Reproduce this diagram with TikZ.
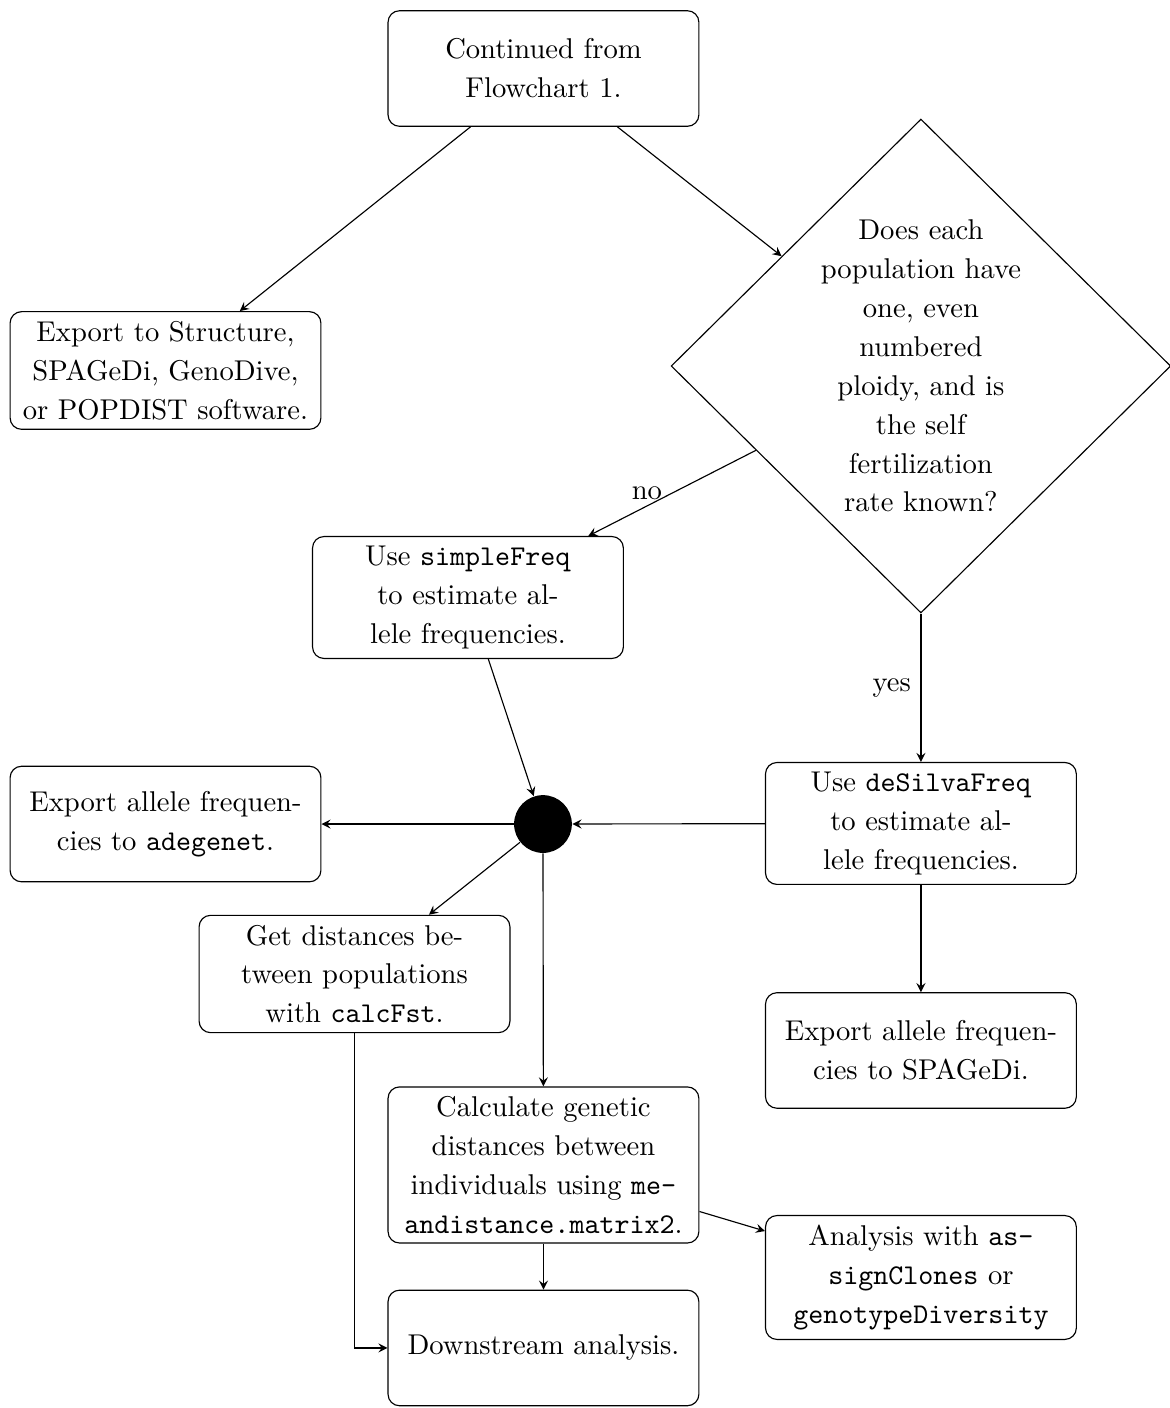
\documentclass[tikz,border=0pt]{standalone}
\usepackage{amsmath}
\usepackage{xcolor}
\usepackage{tikz}
\usetikzlibrary{shapes.geometric}

\begin{document}
\begin{tikzpicture}[>=stealth,
    every node/.style={font=\fontsize{10pt}{13.6pt}\selectfont},
    block/.style={rectangle,draw,rounded corners,align=center,minimum width=3.82cm,minimum height=1.42cm},
    decision/.style={diamond,draw,aspect=1,align=center,inner sep=0pt,minimum width=6.14cm,minimum height=6.07cm},
    junction/.style={circle,fill=black,inner sep=0pt,minimum size=0.71cm}]
    \useasboundingbox (0,0) rectangle (14.367,-17.304);

    \node[block] (start) at (6.679,-0.842) {Continued from\\ Flowchart 1.};
    \node[block] (export) at (2.034,-4.553) {Export to Structure,\\ SPAGeDi, GenoDive,\\ or POPDIST software.};
    \node[decision] (ploidy) at (11.318,-4.498) {Does each\\ population have\\ one, even\\ numbered\\ ploidy, and is\\ the self\\ fertilization\\ rate known?};
    \node[block] (simple) at (5.751,-7.343) {Use \texttt{simpleFreq}\\ to estimate al-\\ lele frequencies.};
    \node[junction] (dot) at (6.673,-10.127) {};
    \node[block] (adegenet) at (2.034,-10.127) {Export allele frequen-\\ cies to \texttt{adegenet}.};
    \node[block] (desilva) at (11.318,-10.120) {Use \texttt{deSilvaFreq}\\ to estimate al-\\ lele frequencies.};
    \node[block] (calcfst) at (4.357,-11.970) {Get distances be-\\ tween populations\\ with \texttt{calcFst}.};
    \node[block] (spagedi) at (11.318,-12.910) {Export allele frequen-\\ cies to SPAGeDi.};
    \node[block] (meandist) at (6.679,-14.317) {Calculate genetic\\ distances between\\ individuals using \texttt{me-}\\ \texttt{andistance.matrix2}.};
    \node[block] (clones) at (11.318,-15.700) {Analysis with \texttt{as-}\\ \texttt{signClones} or\\ \texttt{genotypeDiversity}};
    \node[block] (downstream) at (6.679,-16.566) {Downstream analysis.};

    \draw[->] (start) -- (export);
    \draw[->] (start) -- (ploidy);
    \draw[->] (ploidy) -- node[left] {no} (simple);
    \draw[->] (ploidy) -- node[left] {yes} (desilva);
    \draw[->] (simple) -- (dot);
    \draw[->] (desilva) -- (dot);
    \draw[->] (desilva) -- (spagedi);
    \draw[->] (dot) -- (adegenet);
    \draw[->] (dot) -- (calcfst);
    \draw[->] (dot) -- (meandist);
    \draw[->] (meandist) -- (clones);
    \draw[->] (meandist) -- (downstream);
    \draw[->] (calcfst) |- (downstream);
\end{tikzpicture}
\end{document}
